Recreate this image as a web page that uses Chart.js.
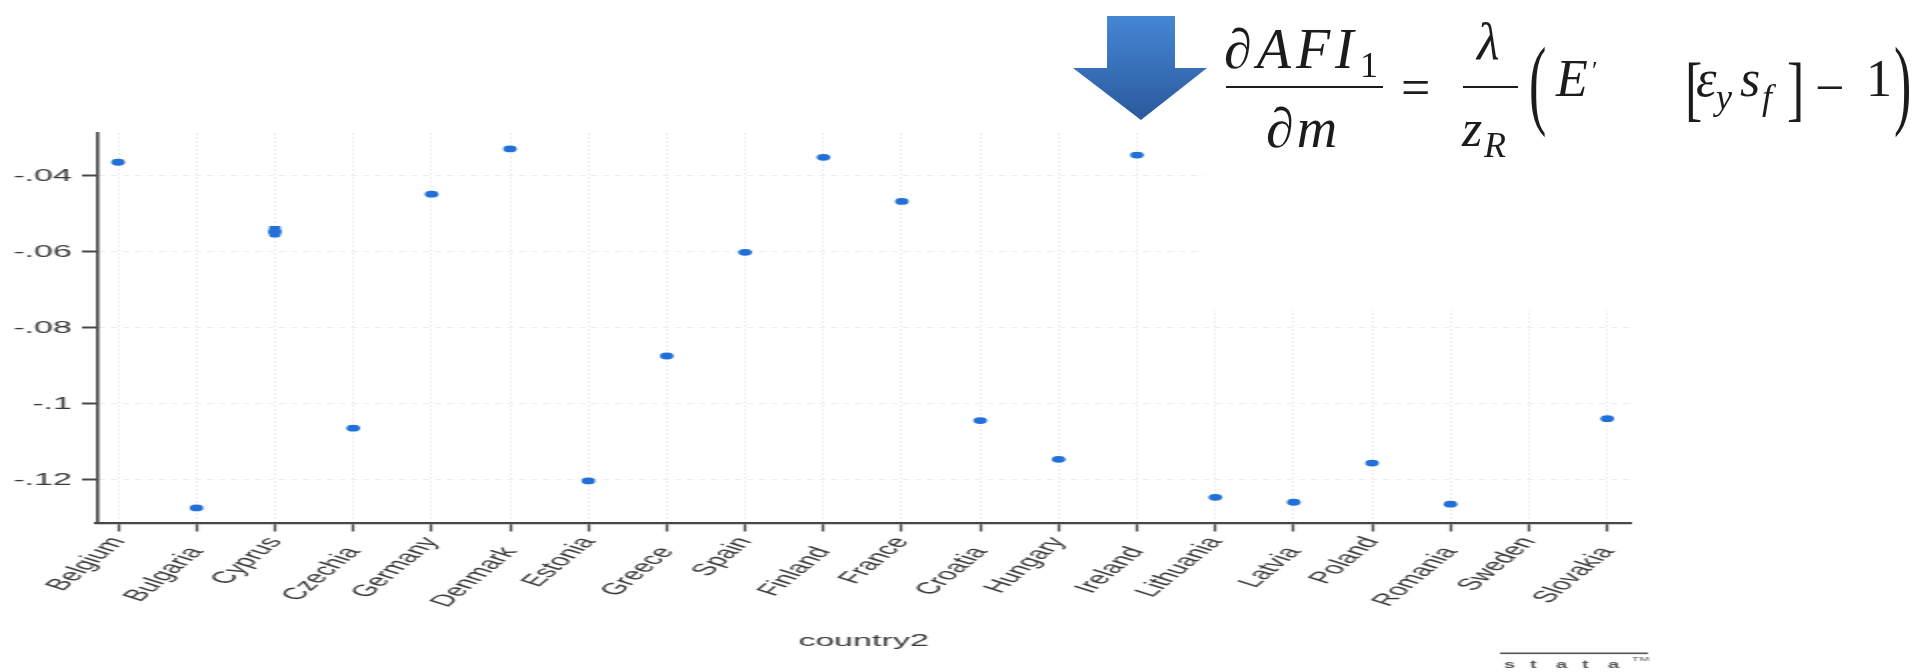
<!DOCTYPE html>
<html>
<head>
<meta charset="utf-8">
<script src="https://cdn.jsdelivr.net/npm/chart.js@4.4.1/dist/chart.umd.min.js"></script>
<style>
  html, body { margin: 0; padding: 0; background: #fff; }
  #wrap { position: relative; width: 1914px; height: 672px; overflow: hidden; background: #fff; }
  /* the Stata graph is shown stretched to twice its width */
  #stretch { position: absolute; left: 0; top: 0; width: 957px; height: 672px; transform: scaleX(2); transform-origin: 0 0; }
  .eq { position: absolute; font-family: 'Liberation Serif', 'DejaVu Serif', serif; color: #1c1c1c; line-height: 1; white-space: nowrap; }
  .it { font-style: italic; }
  .rule { position: absolute; background: #1c1c1c; height: 2px; }
  #arrow {
    position: absolute; left: 1073px; top: 16px; width: 134px; height: 104px;
    background: linear-gradient(#4586d4, #2a5a9c);
    clip-path: polygon(25.4% 0, 76.1% 0, 76.1% 50%, 100% 50%, 50.7% 100%, 0 50%, 25.4% 50%);
  }
</style>
</head>
<body>
<div id="wrap">
  <div id="stretch"><canvas id="plot" width="957" height="672" style="width:957px;height:672px"></canvas></div>
  <div id="arrow"></div>
  <div id="eq"></div>
</div>
<script>
// Country marginal effects (estimate per country, ordered as on the axis)
const categories = ['Belgium', 'Bulgaria', 'Cyprus', 'Czechia', 'Germany', 'Denmark', 'Estonia',
  'Greece', 'Spain', 'Finland', 'France', 'Croatia', 'Hungary', 'Ireland', 'Lithuania', 'Latvia',
  'Poland', 'Romania', 'Sweden', 'Slovakia'];
const estimates = [-0.0364, -0.1274, -0.0547, -0.1064, -0.0448, -0.0329, -0.1203,
  -0.0874, -0.0601, -0.0351, -0.0467, -0.1044, -0.1146, -0.0345, -0.1246, -0.1259,
  -0.1156, -0.1264, null, -0.1039];
// Confidence band, only wide enough to show for Cyprus
const ciLow  = [null, null, -0.0561, null, null, null, null, null, null, null,
  null, null, null, null, null, null, null, null, null, null];
const ciHigh = [null, null, -0.0533, null, null, null, null, null, null, null,
  null, null, null, null, null, null, null, null, null, null];
const yTickValues = [-0.04, -0.06, -0.08, -0.1, -0.12];
const yTickLabels = ['-.04', '-.06', '-.08', '-.1', '-.12'];
const xTitle = 'country2';

const BLUE = '#2170d8';
const AXIS = '#474747';
const TEXT = '#3a3a3a';
const FONT = "'Liberation Sans', Arial, sans-serif";
const X_MIN = -0.27, X_MAX = 19.29;
const LABEL_ANGLE = 58;

const pointData = [];
estimates.forEach((v, i) => { if (v !== null) pointData.push({ x: i, y: v }); });
const ciData = [];
ciLow.forEach((lo, i) => { if (lo !== null && ciHigh[i] !== null) ciData.push({ x: i, y: [lo, ciHigh[i]] }); });

// Blank panel behind the formula, the Stata mark under the axis title,
// and room for the first label row to extend past its own thin axis box
const overlayPlugin = {
  id: 'overlay',
  afterLayout(chart) {
    const s = chart.scales.x;
    s.bottom = chart.height;
  },
  beforeDatasetsDraw(chart) {
    const ctx = chart.ctx;
    ctx.save();
    ctx.fillStyle = '#fff';
    ctx.fillRect(602.5, 0, chart.width - 602.5, 310);
    ctx.restore();
  },
  afterDraw(chart) {
    const ctx = chart.ctx;
    ctx.save();
    ctx.fillStyle = '#555';
    ctx.fillRect(750, 652.5, 74, 1.6);
    ctx.font = 'bold 10px ' + FONT;
    ctx.textBaseline = 'alphabetic';
    ctx.textAlign = 'left';
    'stata'.split('').forEach((c, i) => ctx.fillText(c, 752 + i * 13, 668));
    ctx.font = '6px ' + FONT;
    ctx.fillText('TM', 816, 661);
    ctx.restore();
  }
};

const labelFont = { family: FONT, size: 16.5 };

new Chart(document.getElementById('plot'), {
  type: 'scatter',
  data: {
    datasets: [
      {
        type: 'bar',
        data: ciData,
        backgroundColor: BLUE,
        barThickness: 5,
        borderRadius: 2,
        grouped: false,
        order: 2
      },
      {
        type: 'scatter',
        data: pointData,
        pointStyle: 'circle',
        pointRadius: 3.4,
        pointHoverRadius: 3.4,
        pointBackgroundColor: BLUE,
        pointBorderWidth: 0,
        order: 1
      }
    ]
  },
  options: {
    responsive: false,
    devicePixelRatio: 1,
    animation: false,
    events: [],
    layout: { padding: { top: 133, right: 142, bottom: 0, left: 0 } },
    plugins: { legend: { display: false }, tooltip: { enabled: false } },
    scales: {
      // category axis: tick marks, grid and the labels of even positions
      x: {
        type: 'linear',
        position: 'bottom',
        weight: 0,
        offset: false,
        min: X_MIN,
        max: X_MAX,
        afterBuildTicks: s => { s.ticks = categories.map((_, i) => ({ value: i })); },
        afterFit: s => { s.height = 20; s.paddingLeft = 0; s.paddingRight = 0; },
        ticks: {
          autoSkip: false,
          minRotation: LABEL_ANGLE,
          maxRotation: LABEL_ANGLE,
          padding: 2,
          color: TEXT,
          font: labelFont,
          callback: v => (v % 2 === 0 ? categories[v] : '')
        },
        grid: {
          offset: false,
          color: 'rgba(0,0,0,0.075)',
          lineWidth: 1,
          tickLength: 8,
          tickWidth: 1.3,
          tickColor: AXIS,
          tickBorderDash: []
        },
        border: { display: true, color: AXIS, width: 2.2, dash: [2, 2] }
      },
      // alternate row holding the odd-position labels and the axis title
      x2: {
        type: 'linear',
        axis: 'x',
        position: 'bottom',
        weight: 1,
        offset: false,
        min: X_MIN,
        max: X_MAX,
        afterBuildTicks: s => { s.ticks = categories.map((_, i) => ({ value: i })).filter(t => t.value % 2 === 1); },
        afterFit: s => { s.height = 128.5; s.paddingLeft = 0; s.paddingRight = 0; },
        ticks: {
          autoSkip: false,
          minRotation: LABEL_ANGLE,
          maxRotation: LABEL_ANGLE,
          padding: 0,
          color: TEXT,
          font: labelFont,
          callback: v => categories[v]
        },
        grid: { display: false, drawTicks: false, offset: false },
        border: { display: false },
        title: {
          display: true,
          text: xTitle,
          color: TEXT,
          font: { family: FONT, size: 17 },
          padding: { top: 0, bottom: 20 }
        }
      },
      y: {
        type: 'linear',
        min: -0.1315,
        max: -0.0287,
        afterBuildTicks: s => { s.ticks = yTickValues.map(v => ({ value: v })); },
        afterFit: s => { s.width = 48.5; s.paddingTop = 0; s.paddingBottom = 0; },
        ticks: {
          padding: 5,
          color: TEXT,
          font: { family: FONT, size: 17 },
          callback: (v, i) => yTickLabels[i]
        },
        grid: {
          color: 'rgba(0,0,0,0.075)',
          lineWidth: 1,
          tickLength: 7.5,
          tickWidth: 2,
          tickColor: AXIS,
          tickBorderDash: []
        },
        border: { display: true, color: AXIS, width: 1.6, dash: [3, 3] }
      }
    }
  },
  plugins: [overlayPlugin]
});

// Formula set above the plot: dAFI_1/dm = lambda/z_R (E [eps_y s_f] - 1)
const eqParts = [
  { t: '\u2202AFI', x: 1224, b: 68, s: 56, it: true, ls: 5 },
  { t: '1', x: 1360, b: 77, s: 36 },
  { t: '\u2202m', x: 1266, b: 147, s: 56, it: true, ls: 3 },
  { t: '=', x: 1401, b: 106, s: 52 },
  { t: '\u03BB', x: 1477, b: 60, s: 52, it: true },
  { t: 'z', x: 1462, b: 147, s: 52, it: true },
  { t: 'R', x: 1484, b: 157, s: 36, it: true },
  { t: '(', x: 1529, b: 106, s: 52, sy: 1.9 },
  { t: 'E', x: 1556, b: 97, s: 52, it: true },
  { t: '\u2032', x: 1592, b: 80, s: 26 },
  { t: '[', x: 1685, b: 108, s: 52, sy: 1.4 },
  { t: '\u03B5', x: 1696, b: 97, s: 52, it: true },
  { t: 'y', x: 1716, b: 109, s: 36, it: true },
  { t: 's', x: 1740, b: 97, s: 52, it: true },
  { t: 'f', x: 1762, b: 109, s: 36, it: true },
  { t: ']', x: 1787, b: 108, s: 52, sy: 1.4 },
  { t: '\u2212', x: 1815, b: 106, s: 52 },
  { t: '1', x: 1866, b: 97, s: 52 },
  { t: ')', x: 1894, b: 106, s: 52, sy: 1.9 }
];
const eq = document.getElementById('eq');
eqParts.forEach(p => {
  const el = document.createElement('span');
  el.className = 'eq' + (p.it ? ' it' : '');
  el.textContent = p.t;
  el.style.fontSize = p.s + 'px';
  el.style.left = p.x + 'px';
  el.style.top = (p.b - 0.8375 * p.s) + 'px';
  if (p.ls) el.style.letterSpacing = p.ls + 'px';
  if (p.sy) {
    el.style.transformOrigin = '50% 60%';
    el.style.transform = 'scaleY(' + p.sy + ')';
  }
  eq.appendChild(el);
});
[[1226, 86, 157], [1463, 86, 55]].forEach(([x, y, w]) => {
  const r = document.createElement('div');
  r.className = 'rule';
  r.style.left = x + 'px';
  r.style.top = y + 'px';
  r.style.width = w + 'px';
  eq.appendChild(r);
});
</script>
</body>
</html>
